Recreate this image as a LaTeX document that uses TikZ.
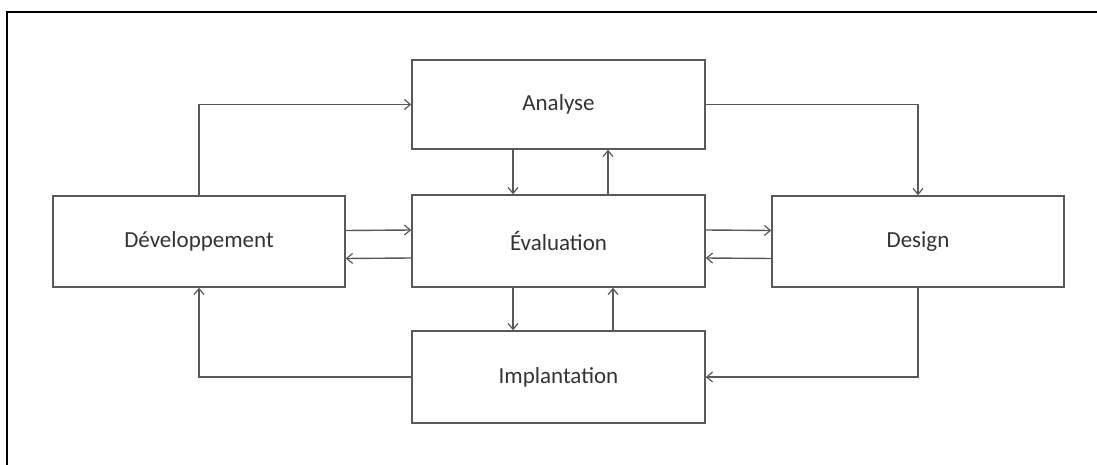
\documentclass[tikz,border=0pt]{standalone}
\usepackage{fontspec}
\setmainfont{Carlito}
\usetikzlibrary{arrows.meta}
\begin{document}
\begin{tikzpicture}[x=1pt,y=-1pt,
  box/.style={draw=black!65,line width=1.4pt,rectangle,inner sep=0pt,
    font=\fontsize{23}{26}\selectfont,text=black!80},
  link/.style={draw=black!65,line width=1.4pt,
    -{Straight Barb[length=6pt,width=10pt,line width=1.2pt]}}]
\useasboundingbox (0,0) rectangle (1097,465);
% frame
\draw[line width=2.2pt,black] (7,465) -- (7,12) -- (1097,12);
% stages
\node[box,minimum width=293pt,minimum height=89pt] (ana) at (558.5,104.5) {Analyse};
\node[box,minimum width=293pt,minimum height=92pt] (eva) at (558.5,241) {Évaluation};
\node[box,minimum width=293pt,minimum height=92pt] (imp) at (558.5,377) {Implantation};
\node[box,minimum width=292pt,minimum height=91pt] (dev) at (199,241.5) {Développement};
\node[box,minimum width=292pt,minimum height=91pt] (des) at (918,241.5) {Design};
% outer cycle
\draw[link] (dev.north) |- (ana.west);
\draw[link] (ana.east) -| (des.north);
\draw[link] (des.south) |- (imp.east);
\draw[link] (imp.west) -| (dev.south);
% exchanges with evaluation
\draw[link] ([xshift=-45.5pt]ana.south) -- ([xshift=-45.5pt]eva.north);
\draw[link] ([xshift=49.5pt]eva.north) -- ([xshift=49.5pt]ana.south);
\draw[link] ([xshift=-45.5pt]eva.south) -- ([xshift=-45.5pt]imp.north);
\draw[link] ([xshift=54.5pt]imp.north) -- ([xshift=54.5pt]eva.south);
\draw[link] ([yshift=11pt]dev.east) -- ([yshift=11pt]eva.west);
\draw[link] ([yshift=-17pt]eva.west) -- ([yshift=-17pt]dev.east);
\draw[link] ([yshift=11pt]eva.east) -- ([yshift=11pt]des.west);
\draw[link] ([yshift=-17pt]des.west) -- ([yshift=-17pt]eva.east);
\end{tikzpicture}
\end{document}
